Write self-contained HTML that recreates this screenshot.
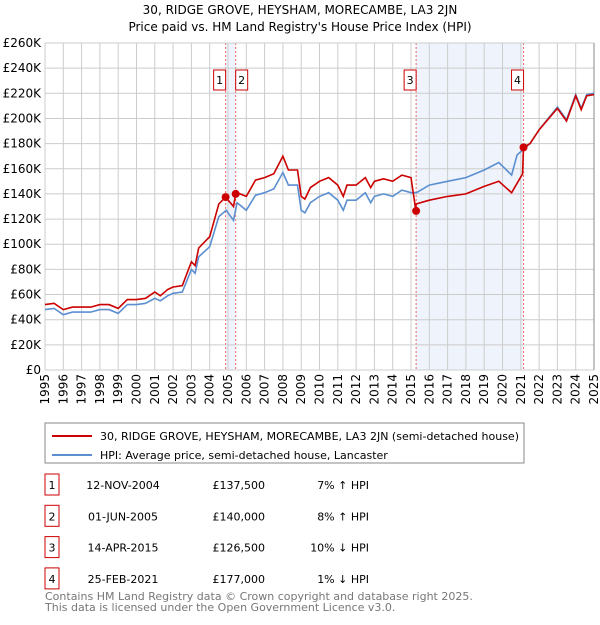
<!DOCTYPE html>
<html><head><meta charset="utf-8"><style>
body{margin:0;background:#fff;font-family:"Liberation Sans","DejaVu Sans",sans-serif;}
svg text{font-family:"DejaVu Sans","Liberation Sans",sans-serif;}
</style></head><body>
<svg id="c" width="600" height="620" viewBox="0 0 600 620">
<text x="300" y="14" text-anchor="middle" font-size="12">30, RIDGE GROVE, HEYSHAM, MORECAMBE, LA3 2JN</text>
<text x="300" y="31" text-anchor="middle" font-size="12">Price paid vs. HM Land Registry's House Price Index (HPI)</text>
<g id="shade"></g><g id="grid"></g><g id="axes"></g><g id="lines"></g><g id="marks"></g>
<rect x="45" y="423" width="479" height="40" fill="#fff" stroke="#888"/>
<line x1="52" y1="436" x2="92" y2="436" stroke="#cc0000" stroke-width="2"/>
<text x="100" y="440" font-size="11">30, RIDGE GROVE, HEYSHAM, MORECAMBE, LA3 2JN (semi-detached house)</text>
<line x1="52" y1="455" x2="92" y2="455" stroke="#5b8fd0" stroke-width="2"/>
<text x="100" y="459" font-size="11">HPI: Average price, semi-detached house, Lancaster</text>
<g id="table" font-size="11"></g>
<text x="45" y="600" font-size="11" fill="#777">Contains HM Land Registry data © Crown copyright and database right 2025.</text>
<text x="45" y="611" font-size="11" fill="#777">This data is licensed under the Open Government Licence v3.0.</text>
</svg>
<script>
const hpiDates=[1995,1995.5,1996,1996.5,1997,1997.5,1998,1998.5,1999,1999.5,2000,2000.5,2001,2001.3,2001.7,2002,2002.5,2003,2003.2,2003.4,2004,2004.5,2004.9,2005.3,2005.5,2006,2006.5,2007,2007.5,2008,2008.3,2008.8,2009,2009.2,2009.5,2010,2010.5,2011,2011.3,2011.5,2012,2012.5,2012.8,2013,2013.5,2014,2014.5,2015,2015.3,2016,2017,2018,2019,2019.8,2020.5,2020.8,2021.5,2022,2023,2023.5,2024,2024.3,2024.6,2025];
const hpiValues=[48,49,44,46,46,46,48,48,45,52,52,53,57,55,59,61,62,80,77,90,98,122,127,119,133,127,139,141,144,157,147,147,127,125,133,138,141,135,127,135,135,141,133,138,140,138,143,141,141,147,150,153,159,165,155,171,180,191,209,199,219,208,219,220];
const redDates=[1995,1995.5,1996,1996.5,1997,1997.5,1998,1998.5,1999,1999.5,2000,2000.5,2001,2001.3,2001.7,2002,2002.5,2003,2003.2,2003.4,2004,2004.5,2004.87,2005.3,2005.42,2005.5,2006,2006.5,2007,2007.5,2008,2008.3,2008.8,2009,2009.2,2009.5,2010,2010.5,2011,2011.3,2011.5,2012,2012.5,2012.8,2013,2013.5,2014,2014.5,2015,2015.27,2015.28,2016,2017,2018,2019,2019.8,2020.5,2021.1,2021.15,2021.5,2022,2023,2023.5,2024,2024.3,2024.6,2025];
const redValues=[52,53,48,50,50,50,52,52,49,56,56,57,62,59,64,66,67,86,83,97,106,132,137.5,130,140,141,138,151,153,156,170,159,159,138,136,145,150,153,147,138,147,147,153,145,150,152,150,155,153,126.5,132,135,138,140,146,150,141,156,177,180,191,208,198,218,207,218,219];
const sales=[{n:"1",t:2004.87,v:137.5,date:"12-NOV-2004",price:"£137,500",rel:"7% ↑ HPI"},{n:"2",t:2005.42,v:140,date:"01-JUN-2005",price:"£140,000",rel:"8% ↑ HPI"},{n:"3",t:2015.28,v:126.5,date:"14-APR-2015",price:"£126,500",rel:"10% ↓ HPI"},{n:"4",t:2021.15,v:177,date:"25-FEB-2021",price:"£177,000",rel:"1% ↓ HPI"}];
const yTicks=[0,20,40,60,80,100,120,140,160,180,200,220,240,260];
const xTicks=[1995,1996,1997,1998,1999,2000,2001,2002,2003,2004,2005,2006,2007,2008,2009,2010,2011,2012,2013,2014,2015,2016,2017,2018,2019,2020,2021,2022,2023,2024,2025];
const L=45,R=594,T=43,B=370;
const X=t=>L+(t-1995)/30*(R-L), Y=v=>B-v/260*(B-T);
const NS="http://www.w3.org/2000/svg";
function mk(tag,attrs,parent,txt){const e=document.createElementNS(NS,tag);for(const k in attrs)e.setAttribute(k,attrs[k]);if(txt!==undefined)e.textContent=txt;(typeof parent==='string'?document.getElementById(parent):parent).appendChild(e);return e;}
[[0,1],[2,3]].forEach(p=>{const e=mk('rect',{x:X(sales[p[0]].t),y:T,width:X(sales[p[1]].t)-X(sales[p[0]].t),height:B-T,fill:'#eef3fc'},'shade');

});
yTicks.forEach(v=>{const l=mk('line',{x1:L,x2:R,y1:Y(v),y2:Y(v),stroke:'#ccc'},'grid');


const t=mk('text',{x:L-4,y:Y(v)+4,'text-anchor':'end','font-size':12},'axes',v===0?'£0':'£'+v+'K');

});
xTicks.forEach(y=>{const l=mk('line',{x1:X(y),x2:X(y),y1:T,y2:B,stroke:'#ccc'},'grid');


const g=mk('g',{transform:'translate('+(X(y)+4).toFixed(1)+',374) rotate(-90)'},'axes');
const t=mk('text',{x:0,y:0,'text-anchor':'end','font-size':12},g,String(y));

});
const ax=mk('line',{x1:R,x2:R,y1:T,y2:B,stroke:'#888'},'axes');


sales.forEach(s=>{const l=mk('line',{x1:X(s.t),x2:X(s.t),y1:T,y2:B,stroke:'#e66','stroke-dasharray':'2,2'},'shade');

});
const path=(d,v)=>d.map((t,i)=>(i?'L':'M')+X(t).toFixed(1)+','+Y(v[i]).toFixed(1)).join('');
const hp=mk('path',{d:path(hpiDates,hpiValues),fill:'none',stroke:'#5b8fd0','stroke-width':1.6},'lines');


const rp=mk('path',{d:path(redDates,redValues),fill:'none',stroke:'#cc0000','stroke-width':1.6},'lines');


sales.forEach((s,i)=>{const c=mk('circle',{cx:X(s.t),cy:Y(s.v),r:4,fill:'#cc0000'},'marks');


const bx=X(s.t)+(i===1?0:-12),by=70;
const r=mk('rect',{x:bx,y:by,width:12,height:20,fill:'#fff',stroke:'#cc0000'},'marks');


const t=mk('text',{x:bx+6,y:by+14,'text-anchor':'middle','font-size':11},'marks',s.n);


const ry=474+i*31.3;
const b=mk('rect',{x:45,y:ry,width:14,height:21,fill:'#fff',stroke:'#cc0000'},'table');


const n=mk('text',{x:52,y:ry+15,'text-anchor':'middle'},'table',s.n);


const d=mk('text',{x:123,y:ry+15,'text-anchor':'middle'},'table',s.date);


const p=mk('text',{x:265,y:ry+15,'text-anchor':'end'},'table',s.price);


const h=mk('text',{x:369,y:ry+15,'text-anchor':'end'},'table',s.rel);

});
</script>
</body></html>
